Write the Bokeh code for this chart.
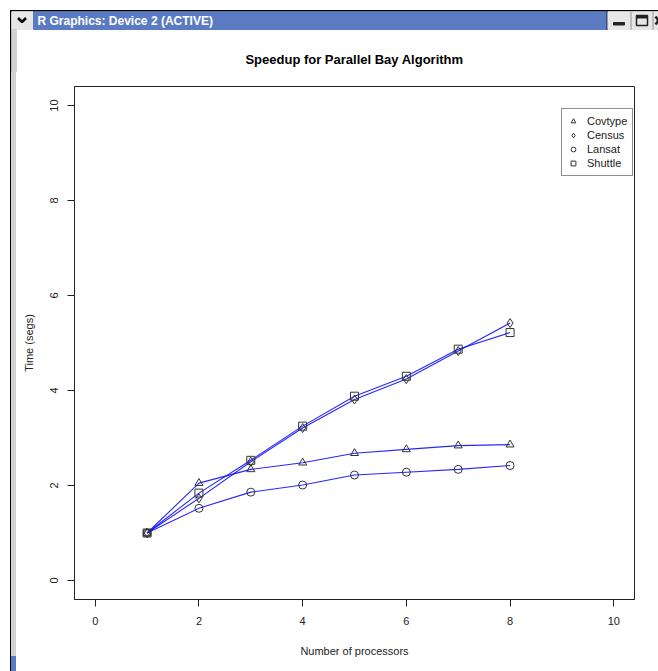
from bokeh.plotting import figure
from bokeh.models import Range1d, FixedTicker, Legend, LegendItem, ColumnDataSource, Div
from bokeh.layouts import column, row
from bokeh.embed import file_html
from bokeh.resources import INLINE
from bokeh.core.properties import value

# ---------------- data ----------------
processors = [1, 2, 3, 4, 5, 6, 7, 8]
covtype = [1.0, 2.05, 2.34, 2.48, 2.68, 2.76, 2.84, 2.86]
census = [1.0, 1.73, 2.50, 3.21, 3.81, 4.24, 4.83, 5.42]
lansat = [1.0, 1.52, 1.86, 2.01, 2.22, 2.28, 2.34, 2.42]
shuttle = [1.0, 1.84, 2.53, 3.25, 3.88, 4.30, 4.87, 5.22]
series_names = ["Covtype", "Census", "Lansat", "Shuttle"]
series_markers = ["triangle", "diamond", "circle", "square"]
ticks = [0, 2, 4, 6, 8, 10]
chart_title = "Speedup for Parallel Bay Algorithm"
window_title = "R Graphics: Device 2 (ACTIVE)"

FONT = "Liberation Sans"
BLUE_BAR = "#5a7bc2"
TOP_H = 72

# ---------------- window chrome: title bar + chart title ----------------
bar = figure(width=658, height=TOP_H, x_range=Range1d(0, 658), y_range=Range1d(TOP_H, 0),
             x_axis_type=None, y_axis_type=None, toolbar_location=None,
             output_backend="svg", min_border=0, outline_line_color=None)
bar.grid.visible = False
bar.background_fill_color = "white"
bar.border_fill_color = "white"
bar.quad(left=[10], right=[658], top=[10], bottom=[11.2], color="black")
bar.quad(left=[10], right=[11.2], top=[10], bottom=[TOP_H], color="black")
bar.quad(left=[11.2], right=[32.5], top=[11.2], bottom=[29], color="#e6e6e6")
bar.quad(left=[11.2], right=[16], top=[29], bottom=[TOP_H], color="#d2d2d2")
bar.line([17.5, 21.5, 25.5], [17.5, 21.5, 17.5], color="black", line_width=2.5)
bar.quad(left=[33], right=[606], top=[11.2], bottom=[29], color=BLUE_BAR)
bar.quad(left=[606], right=[607.5], top=[11.2], bottom=[29], color="#3a4f80")
bar.quad(left=[607.5], right=[658], top=[11.2], bottom=[29], color="#e6e6e6")
bar.quad(left=[630], right=[631], top=[11.2], bottom=[29], color="#bdbdbd")
bar.quad(left=[652], right=[653], top=[11.2], bottom=[29], color="#bdbdbd")
bar.quad(left=[613], right=[624], top=[22], bottom=[24.5], color="#222222")
bar.quad(left=[636], right=[647], top=[15], bottom=[25], fill_color=None,
         line_color="#222222", line_width=1.5)
bar.quad(left=[636], right=[647], top=[15], bottom=[17.5], color="#222222")
bar.segment(x0=[655, 655], y0=[16, 24], x1=[661, 661], y1=[24, 16],
            line_color="#222222", line_width=2.5)
bar.text(x=[37], y=[20], text=[window_title],
         text_font=value(FONT), text_font_style="bold", text_font_size="12px",
         text_color="white", text_baseline="middle", text_align="left")
bar.text(x=[354], y=[59], text=[chart_title],
         text_font=value(FONT), text_font_style="bold", text_font_size="13px",
         text_color="black", text_baseline="middle", text_align="center")

# ---------------- window chrome: left border strip (plain HTML) ----------------
SH = 671 - TOP_H
strip = Div(width=17, height=SH, margin=0, text=(
    '<div style="position:relative;width:17px;height:%dpx;">'
    '<div style="position:absolute;left:10px;top:0;width:1px;height:%dpx;background:#000;"></div>'
    '<div style="position:absolute;left:11px;top:0;width:5px;height:%dpx;background:#d2d2d2;"></div>'
    '<div style="position:absolute;left:11px;top:%dpx;width:5px;height:15px;background:%s;"></div>'
    '</div>' % (SH, SH, SH, SH - 15, BLUE_BAR)))

# ---------------- main plot ----------------
p = figure(width=641, height=SH, x_range=Range1d(-0.4, 10.4), y_range=Range1d(-0.4, 10.4),
           toolbar_location=None, output_backend="svg",
           min_border_left=57, min_border_right=24, min_border_top=86 - TOP_H,
           min_border_bottom=72)
p.grid.visible = False
p.background_fill_color = "white"
p.border_fill_color = "white"
p.outline_line_color = "#222222"
p.outline_line_width = 1

for ax in (p.xaxis[0], p.yaxis[0]):
    ax.ticker = FixedTicker(ticks=ticks)
    ax.minor_tick_line_color = None
    ax.major_tick_in = 0
    ax.major_tick_out = 7
    ax.major_tick_line_color = "#222222"
    ax.axis_line_color = "#222222"
    ax.major_label_text_font = FONT
    ax.major_label_text_font_size = "11px"
    ax.major_label_text_color = "#222222"
    ax.axis_label_text_font = FONT
    ax.axis_label_text_font_size = "11px"
    ax.axis_label_text_font_style = "normal"
    ax.axis_label_text_color = "#222222"

p.xaxis.axis_label = "Number of processors"
p.yaxis.axis_label = "Time (segs)"
p.xaxis.major_label_standoff = 10
p.xaxis.axis_label_standoff = 17
p.yaxis.major_label_orientation = "parallel"
p.yaxis.major_label_standoff = 10
p.yaxis.axis_label_standoff = 12

all_series = [covtype, census, lansat, shuttle]
items = []
for name, marker, ys in zip(series_names, series_markers, all_series):
    src = ColumnDataSource(dict(x=processors, y=ys))
    p.line("x", "y", source=src, line_color="#0000ff", line_width=1.1, line_alpha=0.85)
for name, marker, ys in zip(series_names, series_markers, all_series):
    src = ColumnDataSource(dict(x=processors, y=ys))
    size = 9 if marker == "diamond" else 8
    r = p.scatter("x", "y", source=src, marker=marker, size=size,
                  fill_color=None, line_color="#333333", line_width=1)
    items.append(LegendItem(label=name, renderers=[r]))

legend = Legend(items=items, location=(487, 423), margin=0, padding=5, spacing=0,
                label_height=14, glyph_height=14, glyph_width=12, label_standoff=8,
                label_text_font=FONT, label_text_font_size="11px",
                label_text_color="#222222", border_line_color="#222222",
                border_line_width=1, background_fill_color="white",
                background_fill_alpha=1.0)
p.add_layout(legend)

layout = column(bar, row(strip, p, spacing=0), spacing=0)
open("out.html", "w").write(file_html(layout, INLINE))
